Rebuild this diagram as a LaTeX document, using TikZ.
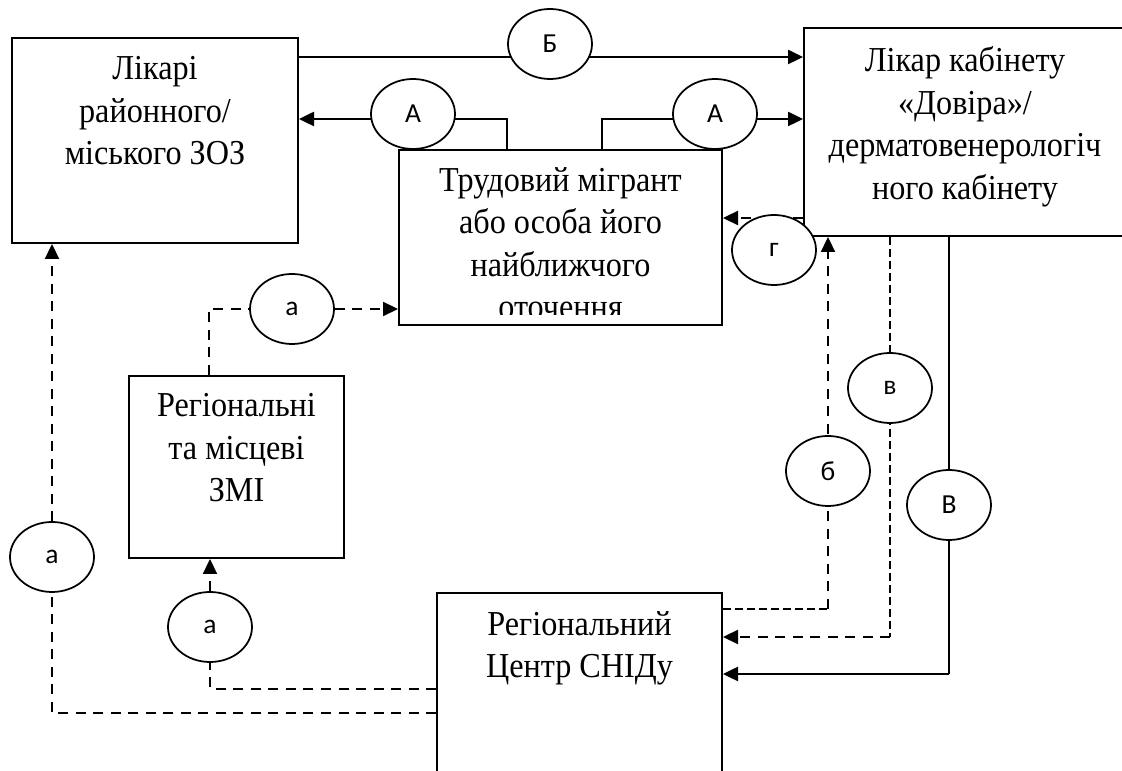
\documentclass[tikz,border=0pt]{standalone}
\usepackage{fontspec}
\setmainfont{Liberation Serif}[FakeStretch=0.92]
\newfontfamily\markfont{Carlito}
\usetikzlibrary{shapes.geometric,arrows.meta,calc,positioning,backgrounds}

\begin{document}
\begin{tikzpicture}[
    x=0.4pt, y=-0.4pt,
    % Style for the rectangular blocks
    blockNode/.style={
        draw=black,
        fill=white,
        line width=0.8pt,
        inner sep=0pt,
        anchor=north west
    },
    % Style for the text written in the blocks (top of first line fixed by a strut)
    blockText/.style={
        anchor=north,
        align=center,
        inner sep=0pt,
        font=\fontsize{14}{17}\selectfont,
        execute at begin node={\rule{0pt}{12pt}}
    },
    % Style for the small ellipses with letters
    markNode/.style={
        ellipse,
        draw=black,
        fill=white,
        line width=0.7pt,
        inner sep=0pt,
        minimum width=33.6pt,
        minimum height=28pt,
        font=\markfont\fontsize{11}{12}\selectfont
    },
    % Styles for the links
    solidLink/.style={draw=black, line width=1pt},
    thinLink/.style={draw=black, line width=0.7pt},
    dashLink/.style={draw=black, line width=0.9pt, dash pattern=on 4pt off 3pt},
    thinDash/.style={draw=black, line width=0.6pt, dash pattern=on 3.2pt off 1.6pt},
    arrowEnd/.style={-{Triangle[length=6pt,width=5.6pt]}}
]

    \useasboundingbox (0,0) rectangle (1122,771);
    \def\pxl{0.4pt}

    % --- BLOCKS ---
    \node[blockNode, minimum width=286*\pxl, minimum height=205*\pxl] (likari) at (11,37) {};
    \node[blockText] at ($(likari.north)+(0,19)$) {Лікарі\\районного/\\міського ЗОЗ};

    \node[blockNode, minimum width=322*\pxl, minimum height=208*\pxl] (likar) at (803,27) {};
    \node[blockText] at ($(likar.north)+(0,19)$) {Лікар кабінету\\«Довіра»/\\дерматовенерологіч\\ного кабінету};

    \node[blockNode, minimum width=323*\pxl, minimum height=175*\pxl] (migr) at (398,149) {};
    \begin{scope}
        \clip (migr.north west) rectangle ($(migr.south east)+(0,-11)$);
        \node[blockText] at ($(migr.north)+(0,18)$) {Трудовий мігрант\\або особа його\\найближчого\\оточення};
    \end{scope}

    \node[blockNode, minimum width=215*\pxl, minimum height=182*\pxl] (zmi) at (128,375) {};
    \node[blockText] at ($(zmi.north)+(0,18)$) {Регіональні\\та місцеві\\ЗМІ};

    \node[blockNode, minimum width=285*\pxl, minimum height=220*\pxl] (centr) at (436,592) {};
    \node[blockText] at ($(centr.north)+(0,19)$) {Регіональний\\Центр СНІДу};

    % --- MARKS ---
    \node[markNode] (mB) at (550,44) {Б};
    \node[markNode] (mAl) at (413,114) {А};
    \node[markNode] (mAr) at (715,114) {А};
    \node[markNode] (mg) at (774,250) {г};
    \node[markNode] (mv) at (890,388) {в};
    \node[markNode] (mb) at (828,471) {б};
    \node[markNode] (mV) at (949,505) {В};
    \node[markNode] (ma1) at (292,309) {а};
    \node[markNode] (ma2) at (52,557) {а};
    \node[markNode] (ma3) at (210,627) {а};

    % --- LINKS ---
    \begin{scope}[on background layer]
        % Б and А
        \draw[solidLink, arrowEnd] ($(likari.north east)+(0,20)$) -- ($(likar.north west)+(0,30)$);
        \draw[solidLink, arrowEnd] ($(migr.north west)+(109,0)$) |- ($(likari.north east)+(0,82)$);
        \draw[solidLink, arrowEnd] ($(migr.north west)+(204,0)$) |- ($(likar.north west)+(0,92)$);

        % г
        \coordinate (gStart) at ($(likar.south west)+(0,-19)$);
        \draw[dashLink, arrowEnd] (gStart) -- (gStart -| migr.east);

        % б
        \coordinate (bStart) at ($(centr.north east)+(0,17)$);
        \draw[thinDash] (bStart) -- (bStart -| mb);
        \draw[dashLink, arrowEnd] (bStart -| mb) -- (mb |- likar.south);

        % в
        \coordinate (vEnd) at ($(centr.north east)+(0,45)$);
        \draw[thinDash] (mv |- likar.south) -- (vEnd -| mv);
        \draw[dashLink, arrowEnd] (vEnd -| mv) -- (vEnd);

        % В
        \coordinate (VEnd) at ($(centr.north east)+(0,82)$);
        \draw[thinLink] (mV |- likar.south) -- (VEnd -| mV);
        \draw[solidLink, arrowEnd] (VEnd -| mV) -- (VEnd);

        % а
        \draw[dashLink, arrowEnd] ($(zmi.north west)+(81,0)$) |- (ma1) -- (ma1 -| migr.west);
        \draw[dashLink, arrowEnd] ($(centr.north west)+(0,121)$) -| (ma2) -- (ma2 |- likari.south);
        \draw[dashLink, arrowEnd] ($(centr.north west)+(0,97)$) -| (ma3) -- (ma3 |- zmi.south);
    \end{scope}

\end{tikzpicture}
\end{document}
